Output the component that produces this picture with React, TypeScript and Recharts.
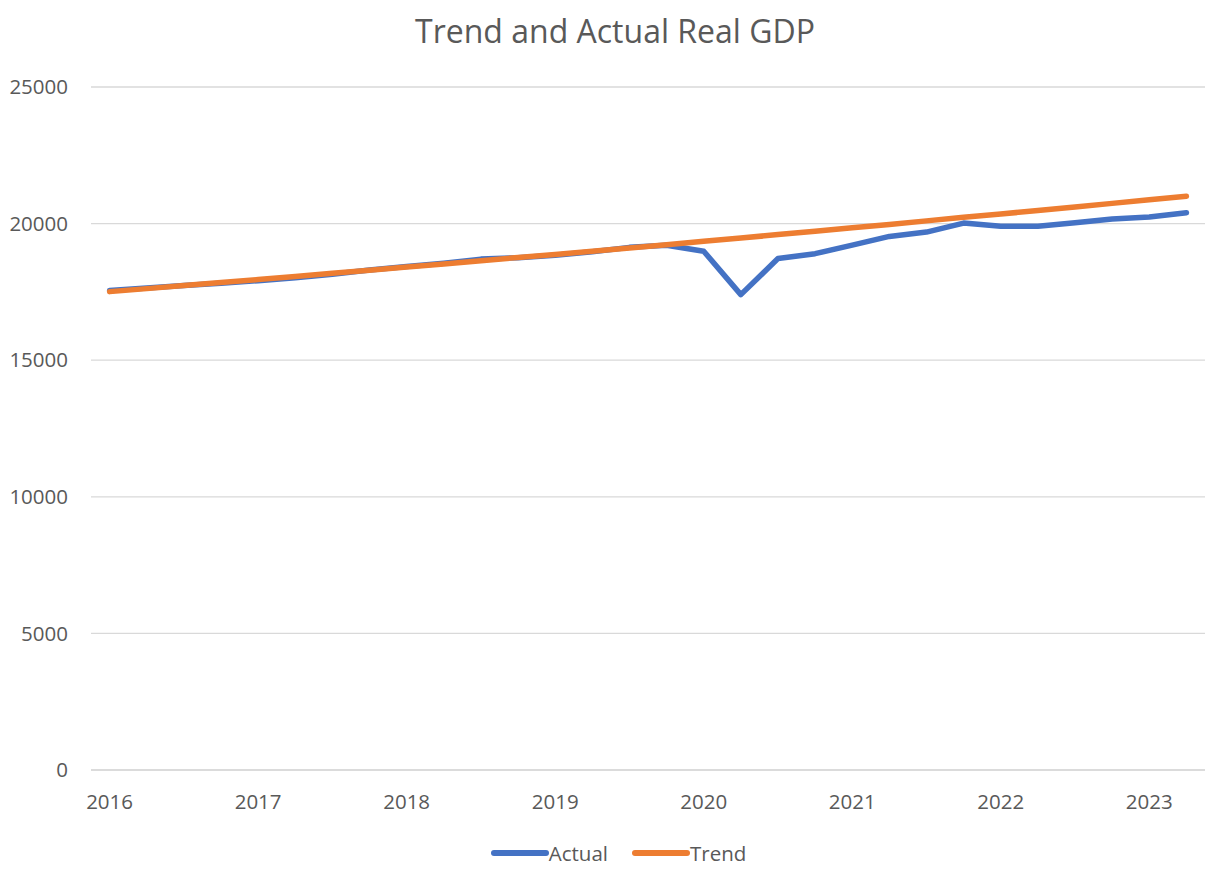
import React from 'react';
import { LineChart, Line, XAxis, YAxis, CartesianGrid, Legend } from 'recharts';

// Quarterly real GDP, 2016Q1 – 2023Q2
const quarters = [
  '2016Q1', '2016Q2', '2016Q3', '2016Q4',
  '2017Q1', '2017Q2', '2017Q3', '2017Q4',
  '2018Q1', '2018Q2', '2018Q3', '2018Q4',
  '2019Q1', '2019Q2', '2019Q3', '2019Q4',
  '2020Q1', '2020Q2', '2020Q3', '2020Q4',
  '2021Q1', '2021Q2', '2021Q3', '2021Q4',
  '2022Q1', '2022Q2', '2022Q3', '2022Q4',
  '2023Q1', '2023Q2',
];

const actualGdp = [
  17550, 17640, 17730, 17820,
  17910, 18020, 18150, 18300,
  18430, 18550, 18700, 18750,
  18840, 18970, 19130, 19210,
  18990, 17400, 18720, 18900,
  19210, 19530, 19690, 20020,
  19900, 19900, 20030, 20170,
  20240, 20400,
];

const trendGdp = [
  17510, 17620, 17730, 17840,
  17950, 18060, 18180, 18290,
  18410, 18520, 18640, 18760,
  18870, 18990, 19110, 19230,
  19350, 19470, 19600, 19720,
  19850, 19970, 20100, 20230,
  20350, 20480, 20610, 20740,
  20870, 21000,
];

const yearTicks = ['2016Q1', '2017Q1', '2018Q1', '2019Q1', '2020Q1', '2021Q1', '2022Q1', '2023Q1'];
const valueTicks = [0, 5000, 10000, 15000, 20000, 25000];

const seriesNames = { actual: 'Actual', trend: 'Trend' };
const chartTitle = 'Trend and Actual Real GDP';

const data = quarters.map((q, i) => ({
  q,
  [seriesNames.actual]: actualGdp[i],
  [seriesNames.trend]: trendGdp[i],
}));

const FONT = '"Open Sans", "Noto Sans", sans-serif';
const TEXT_GREY = '#595959';
const GRID_GREY = '#d9d9d9';
const BLUE = '#4472C4';
const ORANGE = '#ED7D31';

const renderLegend = (props: any) => {
  const payload: any[] = props.payload || [];
  return (
    <div
      style={{
        display: 'flex',
        justifyContent: 'center',
        alignItems: 'center',
        height: 30,
        paddingLeft: 32,
        fontFamily: FONT,
        fontSize: 20.5,
        color: TEXT_GREY,
      }}
    >
      {payload.map((entry, idx) => (
        <div
          key={entry.value}
          style={{ display: 'flex', alignItems: 'center', marginLeft: idx ? 24 : 0 }}
        >
          <svg width={58} height={10} style={{ display: 'block' }}>
            <line
              x1={3}
              y1={5}
              x2={55}
              y2={5}
              stroke={entry.color}
              strokeWidth={6}
              strokeLinecap="round"
            />
          </svg>
          <span>{entry.value}</span>
        </div>
      ))}
    </div>
  );
};

export default function App() {
  return (
    <div
      style={{
        position: 'absolute',
        left: 0,
        top: 0,
        width: 1230,
        height: 882,
        background: '#ffffff',
      }}
    >
      <div
        style={{
          position: 'absolute',
          left: 0,
          top: 15,
          width: 1230,
          textAlign: 'center',
          fontFamily: FONT,
          fontSize: 32,
          lineHeight: '32px',
          color: TEXT_GREY,
        }}
      >
        {chartTitle}
      </div>
      <LineChart
        width={1230}
        height={882}
        data={data}
        margin={{ top: 87, right: 25, left: 0, bottom: 14 }}
      >
        <CartesianGrid vertical={false} stroke={GRID_GREY} strokeWidth={1.3} />
        <XAxis
          dataKey="q"
          ticks={yearTicks}
          interval={0}
          tickFormatter={(q: string) => q.slice(0, 4)}
          height={68}
          padding={{ left: 18.6, right: 18.6 }}
          axisLine={{ stroke: GRID_GREY, strokeWidth: 1.6 }}
          tickLine={false}
          tickSize={0}
          tickMargin={24}
          tick={{ fill: TEXT_GREY, fontSize: 20.5, fontFamily: FONT }}
        />
        <YAxis
          width={91}
          domain={[0, 25000]}
          ticks={valueTicks}
          interval={0}
          axisLine={false}
          tickLine={false}
          tickSize={0}
          tickMargin={23}
          tick={{ fill: TEXT_GREY, fontSize: 20.5, fontFamily: FONT }}
        />
        <Legend verticalAlign="bottom" height={30} content={renderLegend} />
        <Line
          type="linear"
          dataKey={seriesNames.actual}
          stroke={BLUE}
          strokeWidth={5.5}
          strokeLinecap="round"
          strokeLinejoin="round"
          dot={false}
          activeDot={false}
          isAnimationActive={false}
        />
        <Line
          type="linear"
          dataKey={seriesNames.trend}
          stroke={ORANGE}
          strokeWidth={5.5}
          strokeLinecap="round"
          strokeLinejoin="round"
          dot={false}
          activeDot={false}
          isAnimationActive={false}
        />
      </LineChart>
    </div>
  );
}
